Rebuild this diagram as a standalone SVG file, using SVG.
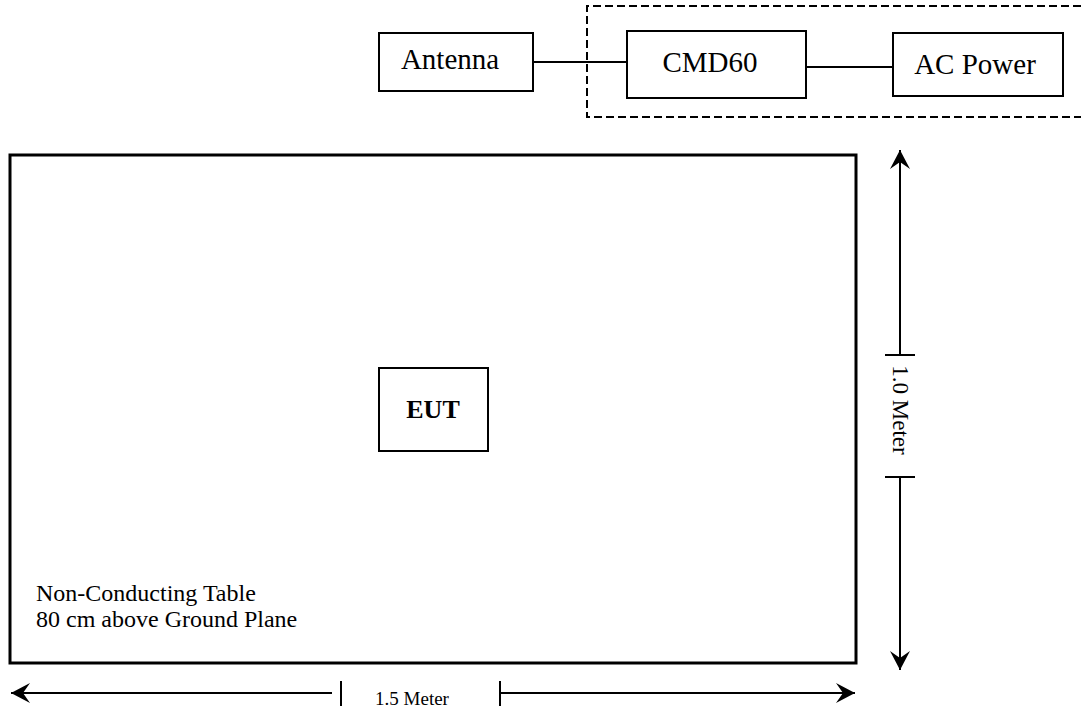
<svg xmlns="http://www.w3.org/2000/svg" width="1081" height="713" viewBox="0 0 1081 713">
<style>
  .box { fill: #fff; stroke: #000; stroke-width: 2; }
  .lbl { font-family: "Liberation Serif", "Times New Roman", serif; fill: #000; text-anchor: middle; }
  .big { font-size: 29px; }
  .note { font-family: "Liberation Serif", "Times New Roman", serif; font-size: 24px; fill: #000; }
  .dim { font-family: "Liberation Serif", "Times New Roman", serif; fill: #000; text-anchor: middle; }
  .ln { stroke: #000; stroke-width: 2; fill: none; }
</style>
<defs>
  <marker id="arr" markerUnits="userSpaceOnUse" viewBox="-20 -11 22 22" refX="0" refY="0" markerWidth="22" markerHeight="22" orient="auto-start-reverse">
    <path d="M0,0 L-19,-10 L-12,0 L-19,10 Z" fill="#000"/>
  </marker>
</defs>
<rect width="1081" height="713" fill="#fff"/>

<g id="equipment-enclosure">
  <path d="M1081,6 H587 V117 H1081" fill="none" stroke="#000" stroke-width="2" stroke-dasharray="8 4"/>
</g>

<g id="connectors">
  <line class="ln" x1="533" y1="62" x2="627" y2="62"/>
  <line class="ln" x1="806" y1="67" x2="893" y2="67"/>
</g>

<g id="antenna">
  <rect class="box" x="379" y="33" width="154" height="58"/>
  <text class="lbl big" x="450" y="69">Antenna</text>
</g>

<g id="cmd60">
  <rect class="box" x="627" y="31" width="179" height="67"/>
  <text class="lbl big" x="710" y="72">CMD60</text>
</g>

<g id="ac-power">
  <rect class="box" x="893" y="33" width="170" height="63"/>
  <text class="lbl big" x="975" y="74">AC Power</text>
</g>

<g id="table">
  <rect x="10" y="155" width="846" height="508" fill="none" stroke="#000" stroke-width="3"/>
  <text class="note" x="36" y="601">Non-Conducting Table</text>
  <text class="note" x="36" y="627">80 cm above Ground Plane</text>
</g>

<g id="eut">
  <rect class="box" x="379" y="368" width="109" height="83"/>
  <text class="lbl" x="433" y="418" font-size="26" font-weight="bold">EUT</text>
</g>

<g id="dimensions">
  <line class="ln" x1="900" y1="150" x2="900" y2="355" marker-start="url(#arr)"/>
  <line class="ln" x1="885" y1="355" x2="915" y2="355"/>
  <line class="ln" x1="885" y1="477" x2="915" y2="477"/>
  <line class="ln" x1="900" y1="477" x2="900" y2="670" marker-end="url(#arr)"/>
  <text class="dim" font-size="23" transform="translate(893,410) rotate(90)">1.0 Meter</text>

  <line class="ln" x1="11" y1="693" x2="332" y2="693" marker-start="url(#arr)"/>
  <line class="ln" x1="341" y1="681" x2="341" y2="706"/>
  <text class="dim" font-size="19" x="412" y="705">1.5 Meter</text>
  <line class="ln" x1="500" y1="681" x2="500" y2="706"/>
  <line class="ln" x1="500" y1="693" x2="855" y2="693" marker-end="url(#arr)"/>
</g>
</svg>
